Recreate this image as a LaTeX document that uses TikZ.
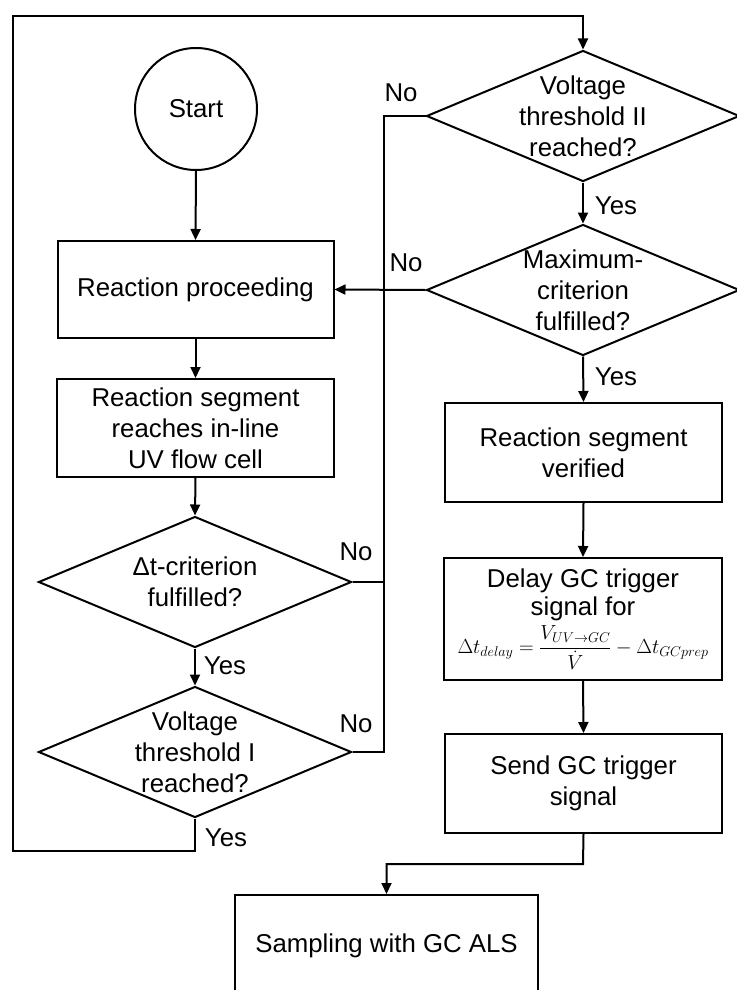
\documentclass[tikz,border=0pt]{standalone}
\usepackage{amsmath}
\usepackage{graphicx}
\usepackage{fontspec}
\setmainfont{Liberation Sans}
\usetikzlibrary{arrows.meta,shapes.geometric}
\begin{document}
\begin{tikzpicture}[x=1pt,y=-1pt,
  every node/.style={font=\fontsize{25.8pt}{31pt}\selectfont},
  lw/.style={line width=2pt},
  arr/.style={lw,-{Triangle[length=11pt,width=10pt]}},
  box/.style={draw,lw,rectangle,align=center,inner sep=0pt},
  dia/.style={draw,lw,diamond,inner sep=0pt,minimum width=313pt,minimum height=131pt},
  dtxt/.style={align=center,inner sep=0pt},
  lab/.style={inner sep=0pt}]
\useasboundingbox (0,0) rectangle (736,990);

% left column
\node[draw,lw,circle,minimum size=122pt,inner sep=0pt] (start) at (196,109) {Start};
\node[box,minimum width=276pt,minimum height=97pt] (rp) at (195.5,289.5) {Reaction proceeding};
\node[box,minimum width=277pt,minimum height=98pt] (rs) at (195.5,428) {Reaction segment\\reaches in-line\\UV flow cell};
\node[dia] (dt) at (195,582) {};
\node[dtxt] (dtt) at (dt.center) {Δt-criterion\\fulfilled?};
\node[dia] (v1) at (195,752) {};
\node[dtxt] (v1t) at (v1.center) {Voltage\\threshold I\\reached?};

% right column
\node[dia] (v2) at (583,116) {};
\node[dtxt] (v2t) at (v2.center) {Voltage\\threshold II\\reached?};
\node[dia] (mx) at (583,290) {};
\node[dtxt] (mxt) at (mx.center) {Maximum-\\criterion\\fulfilled?};
\node[box,minimum width=277pt,minimum height=99pt] (ver) at (583.5,452.5) {Reaction segment\\verified};
\node[box,minimum width=278pt,minimum height=122pt,font=\fontsize{25.8pt}{28pt}\selectfont] (del) at (583,619) {Delay GC trigger\\signal for\\[4pt]\resizebox{251pt}{!}{$\Delta t_{delay}=\dfrac{V_{UV\to GC}}{\dot V}-\Delta t_{GCprep}$}};
\node[box,minimum width=277pt,minimum height=99pt] (send) at (583.5,783.5) {Send GC trigger\\signal};
\node[box,minimum width=303pt,minimum height=102pt] (samp) at (386.5,946) {Sampling with GC ALS};

% helper coordinates
\coordinate (b2) at (384,752);
\coordinate (lb) at (13,851);
\coordinate (lt) at (13,16);
\coordinate (jc) at (583,864);

% connectors
\draw[arr] (start.south) -- (rp.north);
\draw[arr] (rp.south) -- (rs.north);
\draw[arr] (rs.south) -- (dt.north);
\draw[arr] (dt.south) -- (v1.north);
\draw[lw] (v2.west) -| (b2) -- (v1.east);
\draw[lw] (dt.east) -- (dt.east -| b2);
\draw[arr] (mx.west) -- (rp.east);
\draw[arr] (v1.south) |- (lb) -- (lt) -| (v2.north);
\draw[arr] (v2.south) -- (mx.north);
\draw[arr] (mx.south) -- (ver.north);
\draw[arr] (ver.south) -- (del.north);
\draw[arr] (del.south) -- (send.north);
\draw[arr] (send.south) -- (jc) -| (samp.north);

% labels
\node[lab] (l1) at (401,93) {No};
\node[lab] (l2) at (406,263) {No};
\node[lab] (l3) at (616,206) {Yes};
\node[lab] (l4) at (616,377) {Yes};
\node[lab] (l5) at (356,552) {No};
\node[lab] (l6) at (225,666) {Yes};
\node[lab] (l7) at (356,724) {No};
\node[lab] (l8) at (226,838) {Yes};
\end{tikzpicture}
\end{document}
